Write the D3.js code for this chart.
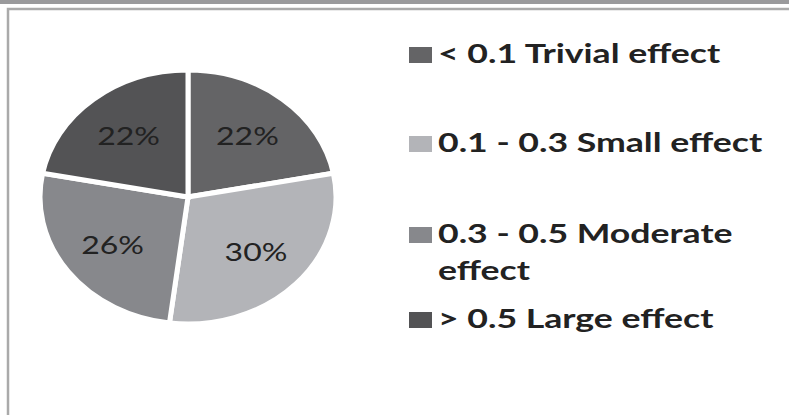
<!DOCTYPE html>
<html><head><meta charset="utf-8">
<script src="https://cdn.jsdelivr.net/npm/d3@7"></script>
<style>body{margin:0;background:#fff}</style></head>
<body><script>
const categories = ["< 0.1 Trivial effect", "0.1 - 0.3 Small effect", "0.3 - 0.5 Moderate effect", "> 0.5 Large effect"];
const values = [22, 30, 26, 22];
const colors = ["#646466", "#b3b4b8", "#87888c", "#535355"];
const legendLines = [["< 0.1 Trivial effect"], ["0.1 - 0.3 Small effect"], ["0.3 - 0.5 Moderate", "effect"], ["> 0.5 Large effect"]];

const W = 789, H = 415;
const svg = d3.select("body").append("svg").attr("width", W).attr("height", H);
svg.append("rect").attr("x",0).attr("y",0).attr("width",W).attr("height",4).attr("fill","#9a9a9c");
svg.append("rect").attr("x",8).attr("y",9).attr("width",W+20).attr("height",H+20)
  .attr("fill","#fff").attr("stroke","#aaa").attr("stroke-width",2.5);

const cx = 188, cy = 197, ry = 127, rx = 148, sx = rx/ry;
const pie = d3.pie().sort(null).value(d=>d);
const arcs = pie(values);
const arc = d3.arc().innerRadius(0).outerRadius(ry);
const g = svg.append("g").attr("transform", `translate(${cx},${cy}) scale(${sx},1)`);
g.selectAll("path").data(arcs).join("path")
  .attr("d", arc).attr("fill", (d,i)=>colors[i])
  .attr("stroke","#fff").attr("stroke-width",5).attr("vector-effect","non-scaling-stroke");

const labelArc = d3.arc().innerRadius(ry*0.63).outerRadius(ry*0.63);
svg.selectAll("text.pct").data(arcs).join("text").attr("class","pct")
  .attr("transform", d => { const c = labelArc.centroid(d); return `translate(${cx + c[0]*sx},${cy + c[1]}) scale(1.28,1)`; })
  .attr("text-anchor","middle").attr("dominant-baseline","central")
  .attr("font-family","Lato, 'Open Sans', sans-serif").attr("font-size",25).attr("fill","#222")
  .text(d => d.data + "%");

const rowY = [63, 152, 243, 328];
const leg = svg.append("g");
legendLines.forEach((lines, i) => {
  leg.append("rect").attr("x",409).attr("y",rowY[i]-16).attr("width",23).attr("height",16).attr("fill",colors[i]);
  lines.forEach((t, j) => {
    leg.append("text").attr("transform", `translate(438,${rowY[i] + j*37}) scale(1.37,1)`)
      .attr("font-family","Lato, 'Open Sans', sans-serif").attr("font-size",26).attr("font-weight","bold")
      .attr("fill","#222").text(t);
  });
});
</script></body></html>
